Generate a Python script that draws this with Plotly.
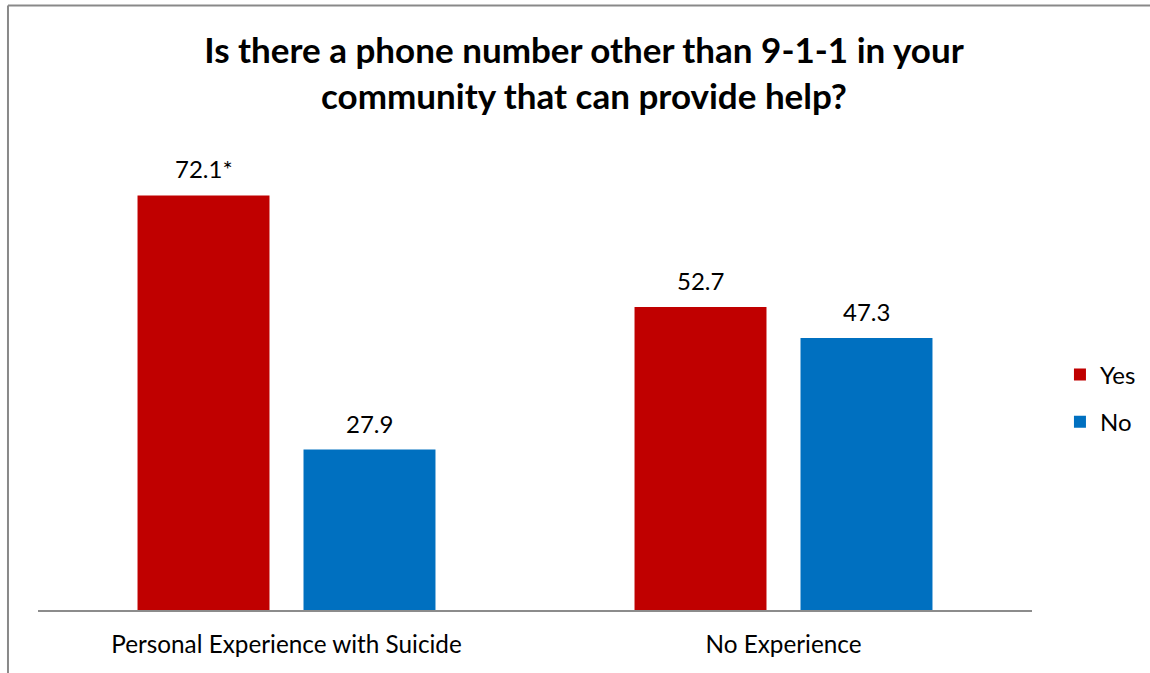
import plotly.graph_objects as go

categories = ["Personal Experience with Suicide", "No Experience"]
series_names = ["Yes", "No"]
yes_values = [72.1, 52.7]
no_values = [27.9, 47.3]
yes_labels = ["72.1*", "52.7"]
no_labels = ["27.9", "47.3"]
colors = ["#C00000", "#0070C0"]

FONT = "Lato, Carlito, Calibri, sans-serif"

BARGAP = 0.332
GROUPGAP = 0.205

fig = go.Figure()
series = [
    (series_names[0], yes_values, yes_labels, colors[0], "a"),
    (series_names[1], no_values, no_labels, colors[1], "b"),
]
for name, vals, labs, col, grp in series:
    fig.add_trace(go.Bar(
        x=categories, y=vals, name=name, marker_color=col,
        marker_line_width=0, legendgroup=grp,
    ))

# data labels as annotations above each bar
plot_w = 1150 - 38 - 118
slot = plot_w / len(categories) * (1 - BARGAP) / len(series)
annotations = []
for i, (name, vals, labs, col, grp) in enumerate(series):
    off = (i - (len(series) - 1) / 2) * slot
    for cat, v, lab in zip(categories, vals, labs):
        annotations.append(dict(
            x=cat, y=v, xref="x", yref="y", text=lab, showarrow=False,
            xshift=off, yshift=10, yanchor="bottom",
            font=dict(family=FONT, size=24, color="black"),
        ))

fig.update_layout(
    width=1150, height=673,
    margin=dict(l=38, r=118, t=150, b=63, autoexpand=False),
    paper_bgcolor="white", plot_bgcolor="white",
    barmode="group", bargap=BARGAP, bargroupgap=GROUPGAP,
    title=dict(
        text="Is there a phone number other than 9-1-1 in your<br>community that can provide help?",
        x=0.5078, xanchor="center", xref="container", y=0.906, yanchor="middle", yref="container",
        font=dict(family=FONT, size=35, color="black", weight="bold"),
    ),
    legend=dict(
        x=0.9217, xanchor="left", xref="container", y=0.46, yanchor="middle",
        font=dict(family=FONT, size=24, color="black"),
        traceorder="grouped", tracegroupgap=13,
        itemwidth=30,
    ),
    showlegend=True,
    font=dict(family=FONT, color="black"),
    annotations=annotations,
    shapes=[
        dict(type="line", xref="paper", yref="paper",
             x0=-0.0302, x1=-0.0302, y0=-0.152, y1=1.314,
             line=dict(color="#898989", width=2), layer="below"),
        dict(type="line", xref="paper", yref="paper",
             x0=-0.0302, x1=1.16, y0=1.314, y1=1.314,
             line=dict(color="#898989", width=2), layer="below"),
    ],
)
fig.update_xaxes(
    showline=True, linecolor="#8C8C8C", linewidth=2,
    ticks="outside", ticklen=12, tickcolor="rgba(0,0,0,0)",
    tickfont=dict(family=FONT, size=24.3, color="black"),
    showgrid=False, zeroline=False,
)
fig.update_yaxes(range=[0, 80], visible=False, showgrid=False, zeroline=False)

fig.write_html(
    "out.html", config={"displayModeBar": False},
    post_script="document.body.style.margin='0';"
                "document.body.style.overflow='hidden';"
                "document.documentElement.style.overflow='hidden';",
)
